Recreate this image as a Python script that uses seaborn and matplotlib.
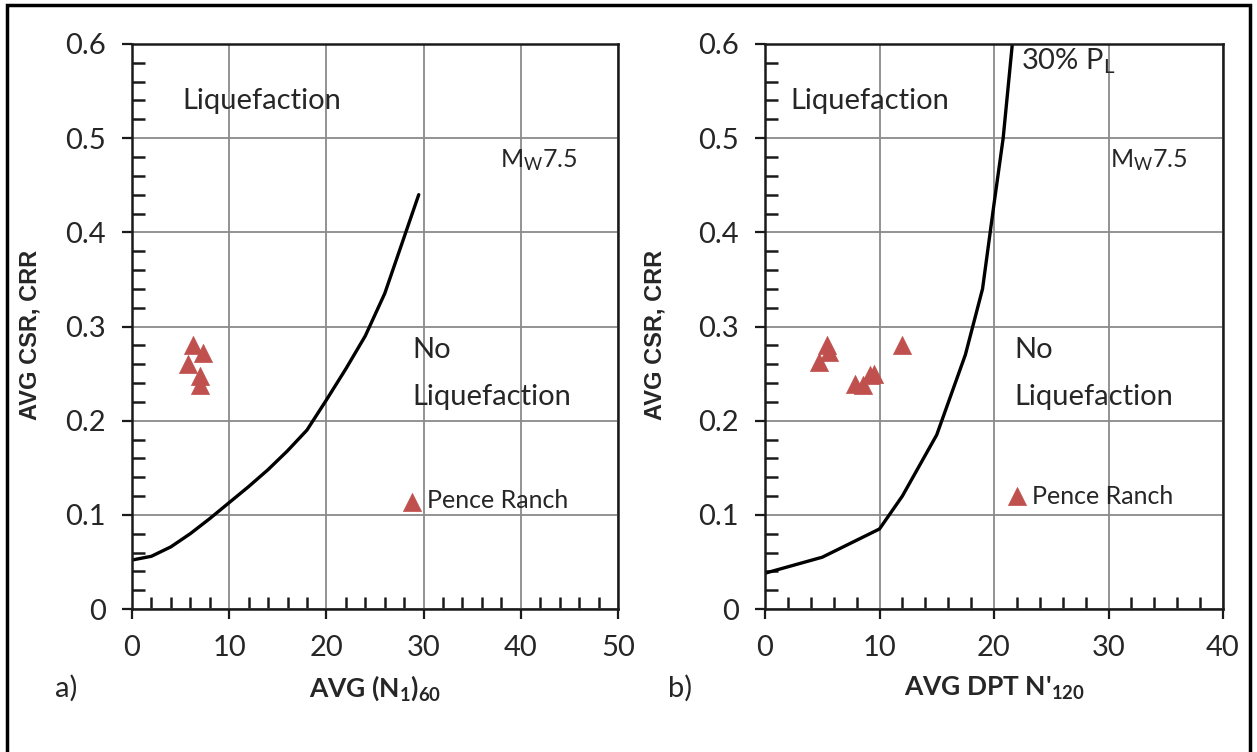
import matplotlib
matplotlib.use("Agg")
import matplotlib.pyplot as plt
import seaborn as sns
import numpy as np
from matplotlib.ticker import MultipleLocator, FixedLocator
from matplotlib.patches import Rectangle

# ---- data ----
# panel a: CRR curve vs (N1)60
curve_a_x = [0, 2, 4, 6, 8, 10, 12, 14, 16, 18, 20, 22, 24, 26, 28, 29.5]
curve_a_y = [0.052, 0.056, 0.066, 0.080, 0.096, 0.113, 0.130, 0.148, 0.168,
             0.190, 0.222, 0.255, 0.290, 0.335, 0.395, 0.440]
pts_a_x = [6.3, 7.3, 5.8, 7.0, 7.0]
pts_a_y = [0.280, 0.272, 0.260, 0.247, 0.238]
pence_a = (28.8, 0.114)

# panel b: 30% PL curve vs DPT N'120
curve_b_x = [0, 5, 10, 12, 15, 17.5, 19, 20, 20.8, 21.6]
curve_b_y = [0.038, 0.055, 0.085, 0.120, 0.185, 0.270, 0.340, 0.430, 0.500, 0.600]
pts_b_x = [5.4, 5.6, 4.7, 7.9, 8.6, 9.2, 9.5, 12.0]
pts_b_y = [0.280, 0.273, 0.262, 0.239, 0.238, 0.249, 0.250, 0.280]
pence_b = (22.0, 0.120)

y_ticks = [0, 0.1, 0.2, 0.3, 0.4, 0.5, 0.6]
y_ticklabels = ["0", "0.1", "0.2", "0.3", "0.4", "0.5", "0.6"]

sns.set_theme(style="white")
FONT = ["Lato", "Open Sans", "DejaVu Sans"]
plt.rcParams.update({
    "font.family": FONT,
    "mathtext.fontset": "custom",
    "mathtext.rm": "Lato",
    "mathtext.it": "Lato",
    "mathtext.bf": "Lato:bold",
})

RED = "#c0504d"
TXT = "#262626"

fig, (axA, axB) = plt.subplots(1, 2, figsize=(12.57, 7.52), dpi=100)
W, H = 1257, 752


def place(ax, x0, x1, y0, y1):
    ax.set_position([x0 / W, 1 - y1 / H, (x1 - x0) / W, (y1 - y0) / H])


place(axA, 132, 618, 44, 609)
place(axB, 765, 1223, 44, 609)


def style(ax, xmax):
    ax.set_xlim(0, xmax)
    ax.set_ylim(0, 0.6)
    ax.set_axisbelow("line")
    for s in ax.spines.values():
        s.set_visible(True)
        s.set_color("#1a1a1a")
        s.set_linewidth(1.8)
    ax.xaxis.set_major_locator(MultipleLocator(10))
    ax.yaxis.set_major_locator(FixedLocator(y_ticks))
    ax.set_yticklabels(y_ticklabels)
    ax.set_xticks(np.arange(2, xmax, 2), minor=True)
    ax.yaxis.set_minor_locator(MultipleLocator(0.02))
    ax.tick_params(which="major", direction="out", length=7, width=1.6,
                   color="#1a1a1a", labelsize=21, labelcolor=TXT, pad=12,
                   bottom=True, left=True, top=False, right=False)
    ax.xaxis.set_tick_params(which="minor", direction="in", length=9, width=1.8,
                             color="#1a1a1a", bottom=True, top=False)
    ax.yaxis.set_tick_params(which="minor", direction="in", length=9, width=1.8,
                             color="#1a1a1a", left=True, right=False)
    ax.grid(True, which="major", color="#8a8a8a", linewidth=1.3)
    ax.set_xlabel("")
    ax.set_ylabel("")


# panel a
sns.lineplot(x=curve_a_x, y=curve_a_y, ax=axA, color="black", linewidth=2.4,
             sort=False, estimator=None)
sns.scatterplot(x=pts_a_x + [pence_a[0]], y=pts_a_y + [pence_a[1]], ax=axA,
                marker="^", s=170, color=RED, edgecolor=RED, linewidth=0.5, zorder=5)
style(axA, 50)

# panel b
sns.lineplot(x=curve_b_x, y=curve_b_y, ax=axB, color="black", linewidth=2.4,
             sort=False, estimator=None)
sns.scatterplot(x=pts_b_x + [pence_b[0]], y=pts_b_y + [pence_b[1]], ax=axB,
                marker="^", s=170, color=RED, edgecolor=RED, linewidth=0.5, zorder=5)
style(axB, 40)

fs = 21
# annotations panel a
axA.text(5.2, 0.54, "Liquefaction", fontsize=fs, color=TXT, va="center", ha="left")
axA.text(37.9, 0.477, r"M$_\mathregular{W}$7.5", fontsize=18, color=TXT, va="center", ha="left")
axA.text(28.8, 0.275, "No", fontsize=fs, color=TXT, va="center", ha="left")
axA.text(28.8, 0.225, "Liquefaction", fontsize=fs, color=TXT, va="center", ha="left")
axA.text(30.3, 0.115, "Pence Ranch", fontsize=18, color=TXT, va="center", ha="left")

# annotations panel b
axB.text(2.2, 0.54, "Liquefaction", fontsize=fs, color=TXT, va="center", ha="left")
axB.text(22.4, 0.582, r"30% P$_\mathregular{L}$", fontsize=fs, color=TXT, va="center", ha="left")
axB.text(30.1, 0.477, r"M$_\mathregular{W}$7.5", fontsize=18, color=TXT, va="center", ha="left")
axB.text(21.8, 0.275, "No", fontsize=fs, color=TXT, va="center", ha="left")
axB.text(21.8, 0.225, "Liquefaction", fontsize=fs, color=TXT, va="center", ha="left")
axB.text(23.3, 0.12, "Pence Ranch", fontsize=18, color=TXT, va="center", ha="left")

# axis labels (figure coordinates)
for xpx in (30, 655):
    fig.text(xpx / W, 1 - 335 / H, "AVG CSR, CRR", rotation=90, fontsize=17,
             fontweight="bold", family=["Liberation Sans", "DejaVu Sans"],
             color=TXT, ha="center", va="center")
fig.text(375 / W, 1 - 688 / H, r"AVG (N$_\mathregular{1}$)$_\mathregular{60}$",
         fontsize=19, color=TXT, ha="center", va="center", fontweight="bold")
fig.text(994 / W, 1 - 688 / H, r"AVG DPT N'$_\mathregular{120}$",
         fontsize=19, color=TXT, ha="center", va="center", fontweight="bold")
fig.text(66 / W, 1 - 688 / H, "a)", fontsize=21, color=TXT, ha="center", va="center")
fig.text(680 / W, 1 - 688 / H, "b)", fontsize=21, color=TXT, ha="center", va="center")

# figure border
fig.add_artist(Rectangle((7 / W, -0.05), 1 - 14 / W, 1.05 - 5 / H,
                         transform=fig.transFigure, fill=False,
                         edgecolor="black", linewidth=2.5, clip_on=False))

fig.savefig("out.png", dpi=100)
